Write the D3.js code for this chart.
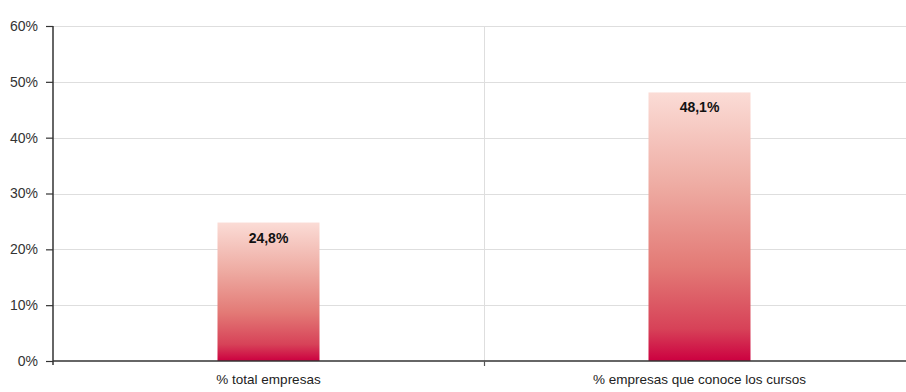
<!DOCTYPE html>
<html>
<head>
<meta charset="utf-8">
<script src="https://cdn.jsdelivr.net/npm/d3@7"></script>
<style>
  html, body { margin: 0; padding: 0; background: #fff; }
  svg { display: block; }
</style>
</head>
<body>
<svg id="chart" width="906" height="392"></svg>
<script>
const categories = ["% total empresas", "% empresas que conoce los cursos"];
const values = [24.8, 48.1];
const valueLabels = ["24,8%", "48,1%"];
const yTicks = [0, 10, 20, 30, 40, 50, 60];

(function () {
const svg = d3.select("#chart");
const mLeft = 53, mRight = 915, mTop = 26, mBottom = 361;

const x = d3.scaleBand().domain(categories).range([mLeft, mRight]).padding(0);
const y = d3.scaleLinear().domain([0, 60]).range([mBottom, mTop]);
const barW = 102;

// gradient
const defs = svg.append("defs");
const grad = defs.append("linearGradient").attr("id", "barGrad")
  .attr("x1", 0).attr("y1", 0).attr("x2", 0).attr("y2", 1);
[[0, "#fbdcd6"], [0.35, "#eeaba2"], [0.65, "#e37a76"], [0.88, "#d74258"], [1, "#cc0040"]]
  .forEach(([o, c]) => grad.append("stop").attr("offset", o).attr("stop-color", c));

// horizontal gridlines
svg.append("g").selectAll("line").data(yTicks.filter(d => d > 0)).join("line")
  .attr("x1", mLeft).attr("x2", 906)
  .attr("y1", d => Math.round(y(d)) + 0.5).attr("y2", d => Math.round(y(d)) + 0.5)
  .attr("stroke", "#dedede").attr("stroke-width", 1);

// vertical divider gridline between categories
const dividers = categories.slice(1).map(c => x(c));
svg.append("g").selectAll("line").data(dividers).join("line")
  .attr("x1", d => Math.round(d) + 0.5).attr("x2", d => Math.round(d) + 0.5)
  .attr("y1", mTop).attr("y2", mBottom)
  .attr("stroke", "#dedede").attr("stroke-width", 1);

// bars
svg.append("g").selectAll("rect").data(values).join("rect")
  .attr("x", (d, i) => x(categories[i]) + x.bandwidth() / 2 - barW / 2)
  .attr("width", barW)
  .attr("y", d => y(d))
  .attr("height", d => mBottom - y(d))
  .attr("fill", "url(#barGrad)");

// value labels
svg.append("g").selectAll("text").data(values).join("text")
  .attr("x", (d, i) => x(categories[i]) + x.bandwidth() / 2)
  .attr("y", d => y(d) + 20)
  .attr("text-anchor", "middle")
  .attr("font-family", "'Liberation Sans', Arial, sans-serif")
  .attr("font-weight", "bold")
  .attr("font-size", 14)
  .attr("fill", "#111")
  .text((d, i) => valueLabels[i]);

// y axis
const yAxis = d3.axisLeft(y).tickValues(yTicks).tickFormat(d => d + "%").tickSize(7).tickPadding(8);
const gy = svg.append("g").attr("transform", `translate(${mLeft},0)`).call(yAxis);
gy.select(".domain").attr("stroke", "#333").attr("stroke-width", 1.5).attr("d", `M0,${mTop}V${mBottom + 4}`);
gy.selectAll(".tick line").attr("stroke", "#333").attr("stroke-width", 1.2);
gy.selectAll(".tick text").attr("font-family", "'Liberation Sans', Arial, sans-serif")
  .attr("font-size", 14).attr("fill", "#333");

// x axis
svg.append("line").attr("x1", mLeft).attr("x2", 906).attr("y1", mBottom).attr("y2", mBottom)
  .attr("stroke", "#333").attr("stroke-width", 1.5);
svg.append("g").selectAll("line").data(dividers).join("line")
  .attr("x1", d => Math.round(d) + 0.5).attr("x2", d => Math.round(d) + 0.5)
  .attr("y1", mBottom).attr("y2", mBottom + 5)
  .attr("stroke", "#555").attr("stroke-width", 1.2);

// category labels
svg.append("g").selectAll("text").data(categories).join("text")
  .attr("x", d => x(d) + x.bandwidth() / 2)
  .attr("y", 384)
  .attr("text-anchor", "middle")
  .attr("font-family", "'Liberation Sans', Arial, sans-serif")
  .attr("font-size", 13.5)
  .attr("fill", "#222")
  .text(d => d);
})();
</script>
</body>
</html>
